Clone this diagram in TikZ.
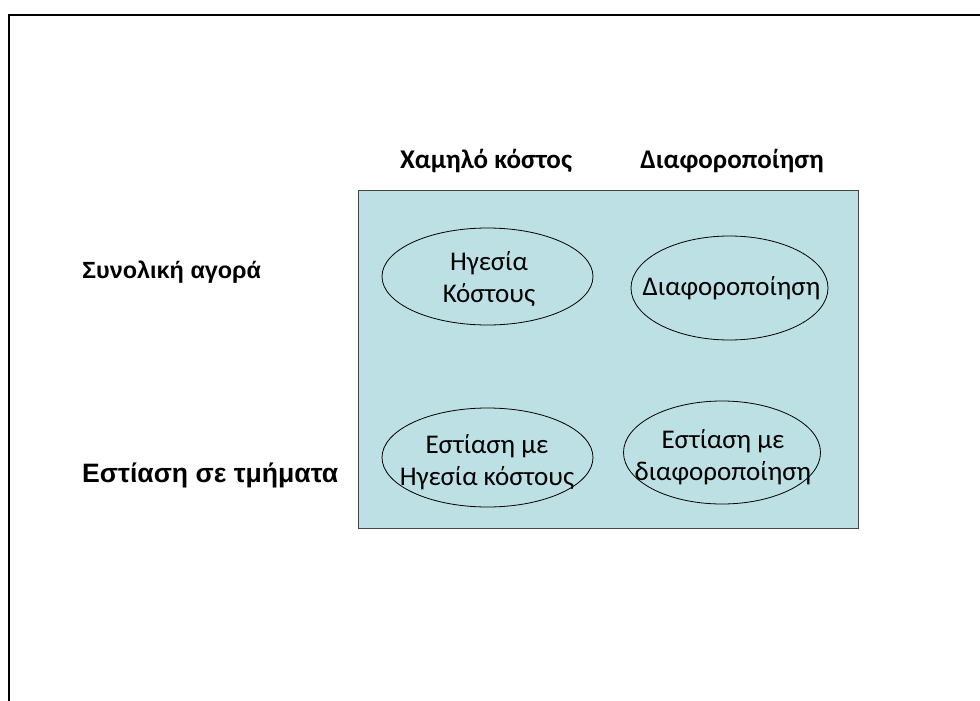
\documentclass[tikz,border=0pt]{standalone}
\usepackage{fontspec}
\setmainfont{Carlito}
\newfontfamily\arialf{Liberation Sans}
\usetikzlibrary{shapes.geometric}
\definecolor{boxfill}{RGB}{188,224,227}
\definecolor{boxline}{RGB}{70,70,70}
\tikzset{
  ell/.style={ellipse, draw=black, line width=0.8pt, inner sep=0pt},
  etext/.style={align=center, inner sep=0pt, font=\fontsize{27}{32}\selectfont},
  head/.style={anchor=base, inner sep=0pt, font=\fontsize{27}{32}\selectfont\bfseries},
  rowlab/.style={anchor=base west, inner sep=0pt},
}
\begin{document}
\begin{tikzpicture}[x=1pt,y=-1pt]
\useasboundingbox (0,0) rectangle (980,701);
% outer frame (top and left only)
\coordinate (fl) at (9,701);
\coordinate (ftl) at (9,15);
\coordinate (fr) at (980,15);
\draw[line width=1.8pt, black] (fl) -- (ftl) -- (fr);
% coloured box
\node[draw=boxline, fill=boxfill, line width=0.8pt, minimum width=500pt, minimum height=338pt, inner sep=0pt] (box) at (608,359) {};
% headers
\node[head] (h1) at (486,168) {Χαμηλό κόστος};
\node[head] (h2) at (732,168) {Διαφοροποίηση};
% row labels
\node[rowlab, font=\arialf\fontsize{23.4}{28}\selectfont\bfseries] (r1) at (82,278) {Συνολική αγορά};
\node[rowlab, font=\arialf\fontsize{26.6}{30}\selectfont\bfseries] (r2) at (82,482) {Εστίαση σε τμήματα};
% ellipses
\node[ell, minimum width=211pt, minimum height=97pt] (e1) at (487.5,276.5) {};
\node[ell, minimum width=197pt, minimum height=104pt] (e2) at (729.5,288) {};
\node[ell, minimum width=211pt, minimum height=99pt] (e3) at (487.5,457.5) {};
\node[ell, minimum width=197pt, minimum height=103pt] (e4) at (722,452.5) {};
% ellipse texts
\node[etext] (t1) at (489,279) {Ηγεσία\\Κόστους};
\node[etext] (t2) at (731.5,288) {Διαφοροποίηση};
\node[etext] (t3) at (487,462) {Εστίαση με\\Ηγεσία κόστους};
\node[etext] (t4) at (723,457) {Εστίαση με\\διαφοροποίηση};
\end{tikzpicture}
\end{document}
